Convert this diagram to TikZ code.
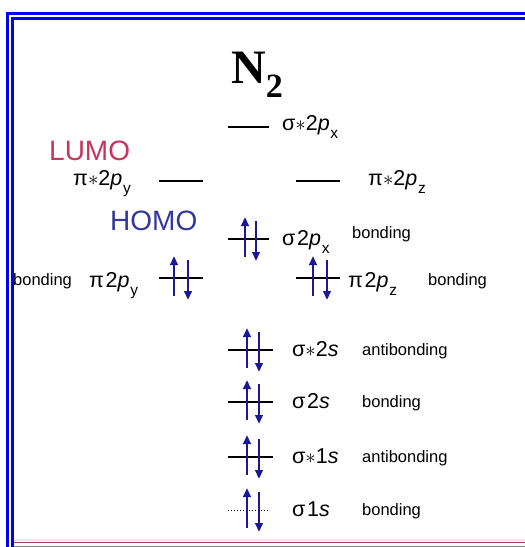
\documentclass[tikz,border=0pt]{standalone}
\usepackage{fontspec}
\setmainfont{Liberation Sans}
\newfontfamily\titlefont{Liberation Serif}
\newfontfamily\orbfamily{Liberation Sans}[LetterSpace=8]
\usetikzlibrary{arrows.meta,positioning}
\definecolor{moBorder}{HTML}{0000F2}
\definecolor{moLumo}{HTML}{C8345E}
\definecolor{moHomo}{HTML}{34389C}
\definecolor{moSpin}{HTML}{1A1A98}
\definecolor{moBase}{HTML}{A8406E}
\newcommand{\orbfont}{\orbfamily\fontsize{21.5}{21.5}\selectfont}
\newcommand{\notefont}{\fontsize{16.5}{16.5}\selectfont}
\newcommand{\orbsub}[1]{\kern-1pt\raisebox{-8pt}{\fontsize{15.5}{15.5}\selectfont #1}}
\newcommand{\mopair}[3]{%
  \draw[spin] (#1,#3+18) -- (#1,#3-22);
  \draw[spin] (#2,#3-18) -- (#2,#3+22);}

\begin{document}
\begin{tikzpicture}[x=1pt,y=-1pt,
  level/.style={line width=1.5pt},
  spin/.style={moSpin,line width=2.4pt,-{Triangle[width=7.5pt,length=9pt]}},
  orb/.style={anchor=base west,inner sep=0pt,font=\orbfont},
  note/.style={anchor=base west,inner sep=0pt,font=\notefont},
  tag/.style={anchor=base west,inner sep=0pt,font=\fontsize{28}{28}\selectfont}]
  \useasboundingbox[fill=white] (0,0) rectangle (525,547);

  \draw[moBorder,line width=3pt] (7.5,547) -- (7.5,13.5) -- (525,13.5);
  \draw[moBorder,line width=3pt] (12.5,547) -- (12.5,18.5) -- (525,18.5);
  \draw[pink!40,line width=2pt] (14,540) -- (525,540);
  \draw[moBase,line width=1.5pt] (14,542.5) -- (525,542.5);
  \draw[gray,line width=1pt] (14,546) -- (525,546);

  \node[anchor=base west,inner sep=0pt,font=\titlefont\bfseries\fontsize{48}{48}\selectfont]
    (title) at (231,83) {N\raisebox{-14pt}{\fontsize{34}{34}\selectfont 2}};
  \node[tag,text=moLumo] (lumo) at (49,160) {LUMO};
  \node[tag,text=moHomo] (homo) at (110,230) {HOMO};

  \draw[level] (228,127) -- (269,127);
  \node[orb] (sx2px) at (282,130) {σ$\ast$2\textit{p}\orbsub{x}};

  \draw[level] (159,181) -- (203,181);
  \draw[level] (296,181) -- (340,181);
  \node[orb] (px2py) at (73,185) {π$\ast$2\textit{p}\orbsub{y}};
  \node[orb] (px2pz) at (368,185) {π$\ast$2\textit{p}\orbsub{z}};

  \draw[level] (228,239) -- (269,239);
  \mopair{245}{256}{239}
  \node[orb] (s2px) at (282,245) {σ2\textit{p}\orbsub{x}};
  \node[note] (s2pxnote) at (352,238) {bonding};

  \draw[level] (159,278) -- (203,278);
  \mopair{174}{188}{278}
  \node[orb] (p2py) at (89,287) {π2\textit{p}\orbsub{y}};
  \node[note] (p2pynote) at (13,285) {bonding};
  \draw[level] (296,278) -- (340,278);
  \mopair{313}{327}{278}
  \node[orb] (p2pz) at (348,287) {π2\textit{p}\orbsub{z}};
  \node[note] (p2pznote) at (428,285) {bonding};

  \foreach \y/\lab/\txt [count=\i] in {350/{σ$\ast$2\textit{s}}/antibonding,
      402/{σ2\textit{s}}/bonding, 457/{σ$\ast$1\textit{s}}/antibonding}{
    \draw[level] (228,\y) -- (273,\y);
    \mopair{247}{259}{\y}
    \node[orb] (low\i) at (292,\y+6) {\lab};
    \node[note] (lownote\i) at (362,\y+5) {\txt};
  }
  \draw[dotted,line width=1pt] (228,510) -- (270,510);
  \mopair{247}{259}{510}
  \node[orb] (s1s) at (292,516) {σ1\textit{s}};
  \node[note] (s1snote) at (362,515) {bonding};
\end{tikzpicture}
\end{document}
